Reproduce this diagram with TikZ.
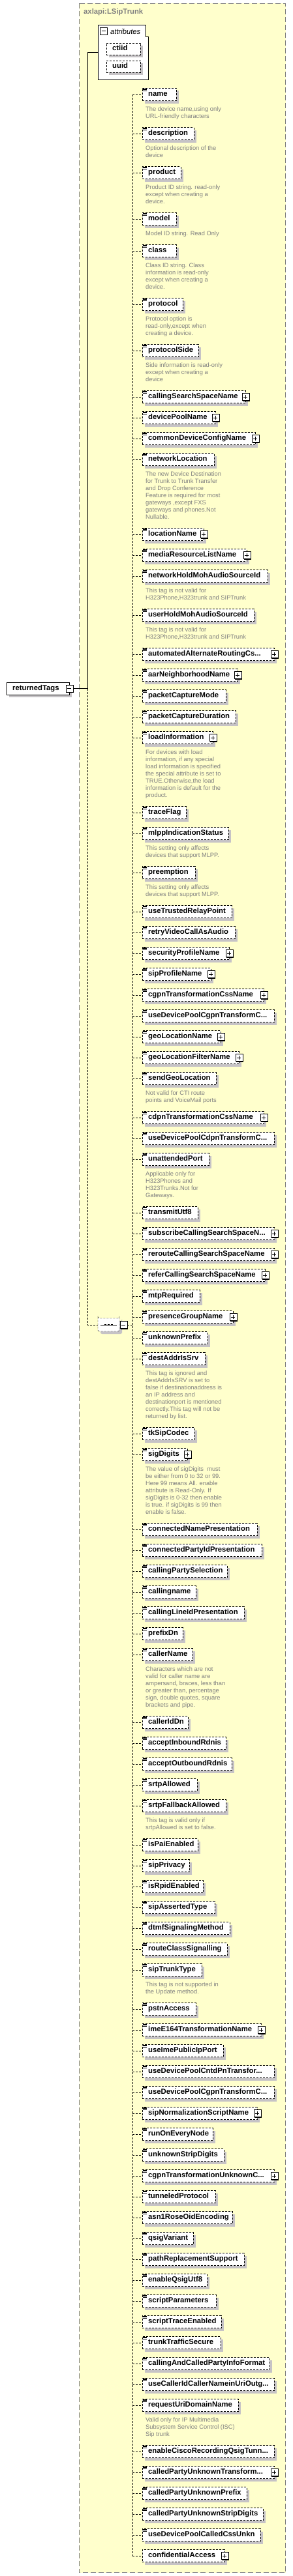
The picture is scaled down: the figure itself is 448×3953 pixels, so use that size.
\documentclass[tikz,border=0pt]{standalone}
\usepackage{fontspec}
\setmainfont{Liberation Sans}
\usetikzlibrary{positioning,shapes.misc,shadows}
\definecolor{bgYellow}{HTML}{FFFFCC}
\definecolor{frameGray}{HTML}{808080}
\definecolor{shdGray}{HTML}{C6C3C6}
\definecolor{docGray}{HTML}{808080}
\newcommand\tdots{.\kern0pt.\kern0pt.}

\begin{document}
\begin{tikzpicture}[x=1pt, y=-1pt,
  font=\fontsize{11.3}{13}\selectfont\bfseries,
  elem/.style={draw, dash pattern=on 3pt off 2pt, fill=white, anchor=west, minimum height=19pt, inner xsep=9pt, inner ysep=0pt, text height=8pt, text depth=2.5pt, align=left, drop shadow={shadow xshift=4pt, shadow yshift=-4pt, fill=shdGray, opacity=1}},
  doc/.style={anchor=north west, inner sep=0pt, align=left, text=docGray, font=\normalfont\fontsize{9.3}{11}\selectfont},
  ctrl/.style={draw, solid, fill=white, minimum size=11pt, inner sep=0pt, drop shadow={shadow xshift=1pt, shadow yshift=-1pt, fill=black, opacity=1}},
  plusbox/.style={ctrl, path picture={\draw[line width=1pt] ([xshift=2.5pt]path picture bounding box.west) -- ([xshift=-2.5pt]path picture bounding box.east) ([yshift=2.5pt]path picture bounding box.south) -- ([yshift=-2.5pt]path picture bounding box.north);}},
  minusbox/.style={ctrl, path picture={\draw[line width=1pt] ([xshift=2.5pt]path picture bounding box.west) -- ([xshift=-2.5pt]path picture bounding box.east);}},
  bus/.style={dash pattern=on 3pt off 2pt},
  icon/.style={line width=0.8pt}]
\useasboundingbox (0,0) rectangle (448,3953);

% complex type frame
\draw[frameGray, fill=bgYellow, dash pattern=on 8pt off 4pt] (121.5,5.5) rectangle (437.5,3947.5);
\node[anchor=west, text=frameGray, inner sep=0pt] (title) at (128,19) {axlapi:LSipTrunk};

% attributes
\node[anchor=north west, minimum width=77pt, minimum height=84pt, inner sep=0pt] (attr) at (150,38) {};
\draw[fill=white] (attr.north west) -- ++(72.7,0) -- ++(0,18.7) -- ++(4,0) |- (attr.south west) -- cycle;
\node[minusbox] (attrMinus) at (158.5,47.5) {};
\node[anchor=west, inner sep=0pt, font=\normalfont\fontsize{11.2}{13}\selectfont\itshape] at (169,48) {attributes};
\node[elem, minimum height=18.5pt, text width=34pt] (ctiid) at (163,75) {ctiid};
\node[elem, minimum height=18.5pt, text width=34pt] (uuid) at (163,102) {uuid};

% root element
\node[elem, solid, text width=78pt] (rt) at (10,1056.5) {returnedTags};
\node[minusbox] (rtMinus) at (rt.east) {};

% sequence
\node[draw, dash pattern=on 3pt off 2pt, fill=white, chamfered rectangle, chamfered rectangle xsep=5pt, rounded corners=2.5pt, minimum width=33pt, minimum height=20pt, inner sep=0pt, drop shadow={shadow xshift=4pt, shadow yshift=-4pt, fill=shdGray, opacity=1}] (seq) at (166.5,2033) {};
\draw (seq.center) +(-12.5,0) -- +(12.5,0);
\foreach \dx in {-5,0,5} \fill ([xshift=\dx pt]seq.center) +(-1.4,-1.4) rectangle +(1.4,1.4);
\node[minusbox, anchor=west] (seqMinus) at ([xshift=0.5pt]seq.east) {};

\coordinate (trunk) at (134,0);
\coordinate (bus) at (203,0);
\draw (attr.west) -- (trunk |- attr.west) -- (trunk |- rtMinus.east) -- (rtMinus.east);
\draw[bus] (trunk |- rtMinus.east) -- (trunk |- seq.west) -- (seq.west);
\draw[bus] (seqMinus.east) -- (bus |- seqMinus.east);
\draw[bus] (bus |- 0,145) -- (bus |- 0,3922);

% child elements: name / centre y / right edge / has type
\foreach \nm/\yy/\rr/\pl [count=\i] in {
  name/145/270/0, description/205/297/0, product/265/277/0, model/336/270/0,
  class/385/270/0, protocol/467/280/0, protocolSide/538/304/0,
  callingSearchSpaceName/609/376/1, devicePoolName/641/330/1,
  commonDeviceConfigName/673/391/1, networkLocation/705/328/0,
  locationName/820/312/1, mediaResourceListName/852/378/1,
  networkHoldMohAudioSourceId/884/410/0, userHoldMohAudioSourceId/944/389/0,
  automatedAlternateRoutingCs\tdots/1004/420/1, aarNeighborhoodName/1036/364/1,
  packetCaptureMode/1068/346/0, packetCaptureDuration/1100/361/0,
  loadInformation/1132/326/1, traceFlag/1247/285/0, mlppIndicationStatus/1279/350/0,
  preemption/1339/299/0, useTrustedRelayPoint/1399/355/0, retryVideoCallAsAudio/1431/360/0,
  securityProfileName/1463/351/1, sipProfileName/1495/323/1,
  cgpnTransformationCssName/1527/404/1, useDevicePoolCgpnTransformC\tdots/1559/420/0,
  geoLocationName/1591/338/1, geoLocationFilterName/1623/366/1,
  sendGeoLocation/1655/331/0, cdpnTransformationCssName/1715/404/1,
  useDevicePoolCdpnTransformC\tdots/1747/420/0, unattendedPort/1779/320/0,
  transmitUtf8/1861/303/0, subscribeCallingSearchSpaceN\tdots/1893/420/1,
  rerouteCallingSearchSpaceName/1925/420/1, referCallingSearchSpaceName/1957/406/1,
  mtpRequired/1989/306/0, presenceGroupName/2021/357/1, unknownPrefix/2053/318/0,
  destAddrIsSrv/2085/314/0, tkSipCodec/2200/298/0, sigDigits/2232/287/1,
  connectedNamePresentation/2347/394/0, connectedPartyIdPresentation/2379/401/0,
  callingPartySelection/2411/348/0, callingname/2443/300/0,
  callingLineIdPresentation/2475/374/0, prefixDn/2507/280/0, callerName/2539/295/0,
  callerIdDn/2643/288/0, acceptInboundRdnis/2675/346/0, acceptOutboundRdnis/2707/355/0,
  srtpAllowed/2739/302/0, srtpFallbackAllowed/2771/346/0, isPaiEnabled/2831/303/0,
  sipPrivacy/2863/290/0, isRpidEnabled/2895/311/0, sipAssertedType/2927/329/0,
  dtmfSignalingMethod/2959/352/0, routeClassSignalling/2991/348/0,
  sipTrunkType/3023/309/0, pstnAccess/3083/300/0, imeE164TransformationName/3115/400/1,
  useImePublicIpPort/3147/342/0, useDevicePoolCntdPnTransfor\tdots/3179/420/0,
  useDevicePoolCgpnTransformC\tdots/3211/420/0, sipNormalizationScriptName/3243/394/1,
  runOnEveryNode/3275/326/0, unknownStripDigits/3307/343/0,
  cgpnTransformationUnknownC\tdots/3339/420/1, tunneledProtocol/3371/330/0,
  asn1RoseOidEncoding/3403/356/0, qsigVariant/3435/296/0,
  pathReplacementSupport/3467/374/0, enableQsigUtf8/3499/317/0,
  scriptParameters/3531/331/0, scriptTraceEnabled/3563/339/0,
  trunkTrafficSecure/3595/338/0, callingAndCalledPartyInfoFormat/3627/413/0,
  useCallerIdCallerNameinUriOutg\tdots/3659/420/0, requestUriDomainName/3691/365/0,
  enableCiscoRecordingQsigTunn\tdots/3762/420/0, calledPartyUnknownTransform\tdots/3794/420/1,
  calledPartyUnknownPrefix/3826/378/0, calledPartyUnknownStripDigits/3858/403/0,
  useDevicePoolCalledCssUnkn/3890/399/0, confidentialAccess/3922/344/1}
{
  \pgfmathsetmacro\tw{\rr-236}
  \draw[bus] (bus |- 0,\yy) -- (218,\yy);
  \node[elem, text width=\tw pt] (e\i) at (218,\yy) {\mbox{\nm}};
  \ifnum\pl=1 \node[plusbox] at (e\i.east) {};\fi
  \ifnum\i<90 \draw[icon] (e\i.north west) ++(1,0.8) -- ++(6,0) ++(-6,1.7) -- ++(6,0) ++(-6,1.7) -- ++(6,0);\fi
}

% annotations
\node[doc] at ([xshift=5pt,yshift=-8.5pt]e1.south west) {The device name,using only\\URL-friendly characters};
\node[doc] at ([xshift=5pt,yshift=-8.5pt]e2.south west) {Optional description of the\\device};
\node[doc] at ([xshift=5pt,yshift=-8.5pt]e3.south west) {Product ID string. read-only\\except when creating a\\device.};
\node[doc] at ([xshift=5pt,yshift=-8.5pt]e4.south west) {Model ID string. Read Only};
\node[doc] at ([xshift=5pt,yshift=-8.5pt]e5.south west) {Class ID string. Class\\information is read-only\\except when creating a\\device.};
\node[doc] at ([xshift=5pt,yshift=-8.5pt]e6.south west) {Protocol option is\\read-only,except when\\creating a device.};
\node[doc] at ([xshift=5pt,yshift=-8.5pt]e7.south west) {Side information is read-only\\except when creating a\\device};
\node[doc] at ([xshift=5pt,yshift=-8.5pt]e11.south west) {The new Device Destination\\for Trunk to Trunk Transfer\\and Drop Conference\\Feature is required for most\\gateways ,except FXS\\gateways and phones.Not\\Nullable.};
\node[doc] at ([xshift=5pt,yshift=-8.5pt]e14.south west) {This tag is not valid for\\H323Phone,H323trunk and SIPTrunk};
\node[doc] at ([xshift=5pt,yshift=-8.5pt]e15.south west) {This tag is not valid for\\H323Phone,H323trunk and SIPTrunk};
\node[doc] at ([xshift=5pt,yshift=-8.5pt]e20.south west) {For devices with load\\information, if any special\\load information is specified\\the special attribute is set to\\TRUE.Otherwise,the load\\information is default for the\\product.};
\node[doc] at ([xshift=5pt,yshift=-8.5pt]e22.south west) {This setting only affects\\devices that support MLPP.};
\node[doc] at ([xshift=5pt,yshift=-8.5pt]e23.south west) {This setting only affects\\devices that support MLPP.};
\node[doc] at ([xshift=5pt,yshift=-8.5pt]e32.south west) {Not valid for CTI route\\points and VoiceMail ports};
\node[doc] at ([xshift=5pt,yshift=-8.5pt]e35.south west) {Applicable only for\\H323Phones and\\H323Trunks.Not for\\Gateways.};
\node[doc] at ([xshift=5pt,yshift=-8.5pt]e43.south west) {This tag is ignored and\\destAddrIsSRV is set to\\false if destinationaddress is\\an IP address and\\destinationport is mentioned\\correctly.This tag will not be\\returned by list.};
\node[doc] at ([xshift=5pt,yshift=-8.5pt]e45.south west) {The value of sigDigits\ \ must\\be either from 0 to 32 or 99.\\Here 99 means All. enable\\attribute is Read-Only. If\\sigDigits is 0-32 then enable\\is true. if sigDigits is 99 then\\enable is false.};
\node[doc] at ([xshift=5pt,yshift=-8.5pt]e52.south west) {Characters which are not\\valid for caller name are\\ampersand, braces, less than\\or greater than, percentage\\sign, double quotes, square\\brackets and pipe.};
\node[doc] at ([xshift=5pt,yshift=-8.5pt]e57.south west) {This tag is valid only if\\srtpAllowed is set to false.};
\node[doc] at ([xshift=5pt,yshift=-8.5pt]e64.south west) {This tag is not supported in\\the Update method.};
\node[doc] at ([xshift=5pt,yshift=-8.5pt]e84.south west) {Valid only for IP Multimedia\\Subsystem Service Control (ISC)\\Sip trunk};
\end{tikzpicture}
\end{document}
